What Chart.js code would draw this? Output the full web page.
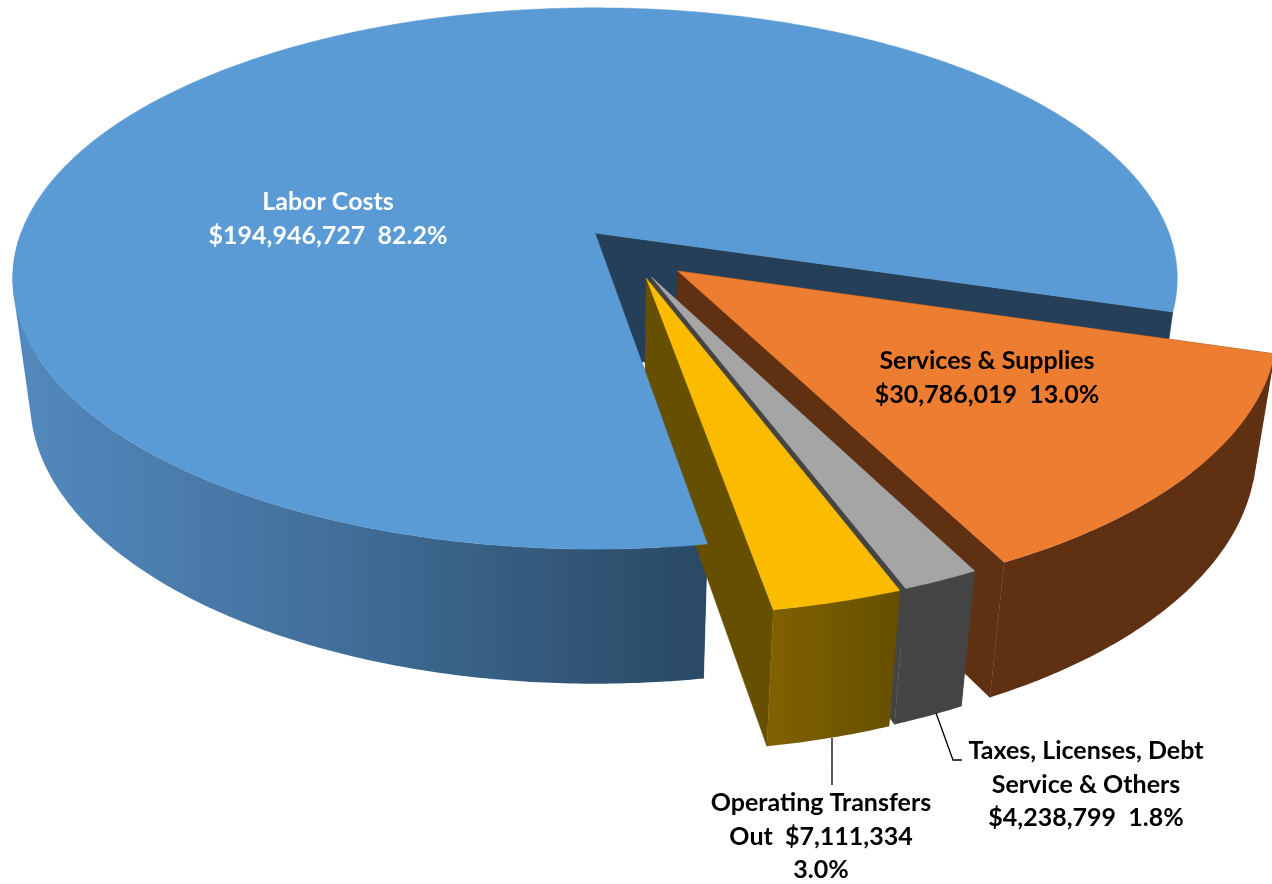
<!DOCTYPE html>
<html>
<head>
<meta charset="utf-8">
<title>Expenditures</title>
<script src="https://cdn.jsdelivr.net/npm/chart.js@4/dist/chart.umd.min.js"></script>
<style>
  html, body { margin: 0; padding: 0; background: #fff; }
  canvas { display: block; }
</style>
</head>
<body>
<canvas id="pie" width="1272" height="884"></canvas>
<script>
var categories = ["Labor Costs", "Services & Supplies", "Taxes, Licenses, Debt Service & Others", "Operating Transfers Out"];
var amounts = [194946727, 30786019, 4238799, 7111334];
var labelLines = [
  ["Labor Costs", "$194,946,727  82.2%"],
  ["Services & Supplies", "$30,786,019  13.0%"],
  ["Taxes, Licenses, Debt", "Service & Others", "$4,238,799  1.8%"],
  ["Operating Transfers", "Out  $7,111,334", "3.0%"]
];

var topColors = ["#5b9bd5", "#ed7d31", "#a5a5a5", "#fbbc00"];
var wallColors = ["#243f57", "#603013", "#444444", "#665000"];
var labelColors = ["#ffffff", "#000000", "#000000", "#000000"];
var labelSpots = [[328, 202], [987, 361], [1086, 751], [821, 803]];
var labelGap = 33.5;
// the picture pulls the small slices out a little off their mid line (degrees)
var pullTurn = [0, 5, -7, -12.6];

// perspective of the tilted disc, worked out from the picture
var cam = { x: 595, y: 233, a: 574, b: 263, k: 0.168, d: 125.5, m: 0.03 };

function project(u, v, z) {
  var w = 1 - cam.k * v + cam.m * z;
  return [cam.x + cam.a * u / w, cam.y + (cam.b * v + cam.d * z) / w];
}

function addShape(ctx, pts) {
  pts.forEach(function (p, i) {
    if (i === 0) ctx.moveTo(p[0], p[1]);
    else ctx.lineTo(p[0], p[1]);
  });
  ctx.closePath();
}

function polygon(ctx, pts, fill) {
  ctx.beginPath();
  addShape(ctx, pts);
  ctx.fillStyle = fill;
  ctx.fill();
  ctx.strokeStyle = fill;
  ctx.lineWidth = 0.5;
  ctx.stroke();
}

// quads near the silhouette flip over; keep them all the same way round or they cancel out
function sameWinding(q) {
  var area = 0;
  for (var i = 0; i < q.length; i++) {
    var a = q[i], b = q[(i + 1) % q.length];
    area += a[0] * b[1] - b[0] * a[1];
  }
  return area < 0 ? q.slice().reverse() : q;
}

function sideFill(ctx, i) {
  if (i === 0) {
    var g = ctx.createLinearGradient(25, 0, 706, 0);
    g.addColorStop(0, "#5288bd");
    g.addColorStop(0.4, "#44729f");
    g.addColorStop(1, "#294964");
    return g;
  }
  if (i === 3) {
    var y = ctx.createLinearGradient(770, 0, 895, 0);
    y.addColorStop(0, "#806100");
    y.addColorStop(1, "#665000");
    return y;
  }
  return wallColors[i];
}

function sliceShape(arc, i) {
  var ox = 0, oy = 0;
  var start = arc.startAngle, end = arc.endAngle;
  if (arc.options.offset) {
    var mid = (start + end) / 2 + pullTurn[i] * Math.PI / 180;
    var f = arc.options.offset / arc.outerRadius;
    ox = f * Math.cos(mid);
    oy = f * Math.sin(mid);
  }
  var steps = Math.ceil((end - start) / 0.01);
  var shape = { rimTop: [], rimBottom: [], facing: [], steps: steps };
  for (var s = 0; s <= steps; s++) {
    var t = start + (end - start) * s / steps;
    var u = ox + Math.cos(t), v = oy + Math.sin(t);
    shape.rimTop.push(project(u, v, 0));
    shape.rimBottom.push(project(u, v, 1));
    // the big slice wraps past 360 degrees, its far right end shows no side in the picture
    shape.facing.push(Math.sin(t) > 0 && (i > 0 || t < Math.PI));
  }
  shape.apexTop = project(ox, oy, 0);
  shape.apexBottom = project(ox, oy, 1);
  return shape;
}

function drawSides(ctx, sh, i) {
  // cut faces first, then the round side as one path so no seams show
  polygon(ctx, [sh.apexTop, sh.rimTop[0], sh.rimBottom[0], sh.apexBottom], wallColors[i]);
  polygon(ctx, [sh.apexTop, sh.rimTop[sh.steps], sh.rimBottom[sh.steps], sh.apexBottom], wallColors[i]);
  ctx.beginPath();
  for (var n = 0; n < sh.steps; n++) {
    if (sh.facing[n]) addShape(ctx, sameWinding([sh.rimTop[n], sh.rimTop[n + 1], sh.rimBottom[n + 1], sh.rimBottom[n]]));
  }
  ctx.fillStyle = sideFill(ctx, i);
  ctx.fill();
}

function drawTop(ctx, sh, i) {
  polygon(ctx, [sh.apexTop].concat(sh.rimTop), topColors[i]);
}

var pie3d = {
  id: "pie3d",
  beforeDatasetDraw: function (chart) {
    var ctx = chart.ctx;
    var shapes = chart.getDatasetMeta(0).data.map(sliceShape);
    // back to front, the big slice's top goes last so it hides the small slices' inner ends
    shapes.forEach(function (sh, i) {
      drawSides(ctx, sh, i);
      if (i > 0) drawTop(ctx, sh, i);
    });
    drawTop(ctx, shapes[0], 0);
    return false;
  },
  afterDraw: function (chart) {
    var ctx = chart.ctx;
    ctx.save();
    ctx.strokeStyle = "#000000";
    ctx.lineWidth = 1.3;
    ctx.beginPath();
    ctx.moveTo(832, 738);
    ctx.lineTo(832, 785);
    ctx.moveTo(936, 713);
    ctx.lineTo(953, 760);
    ctx.lineTo(962, 760);
    ctx.stroke();
    ctx.font = "700 25px Lato";
    ctx.textAlign = "center";
    ctx.textBaseline = "middle";
    labelLines.forEach(function (lines, i) {
      ctx.fillStyle = labelColors[i];
      lines.forEach(function (line, n) {
        ctx.fillText(line, labelSpots[i][0], labelSpots[i][1] + n * labelGap);
      });
    });
    ctx.restore();
  }
};

new Chart(document.getElementById("pie").getContext("2d"), {
  type: "pie",
  data: {
    labels: categories,
    datasets: [{
      data: amounts,
      backgroundColor: topColors,
      borderWidth: 0,
      offset: [0, 80, 76, 76]
    }]
  },
  options: {
    responsive: false,
    animation: false,
    rotation: 170.6,
    plugins: { legend: { display: false }, tooltip: { enabled: false } }
  },
  plugins: [pie3d]
});
</script>
</body>
</html>
